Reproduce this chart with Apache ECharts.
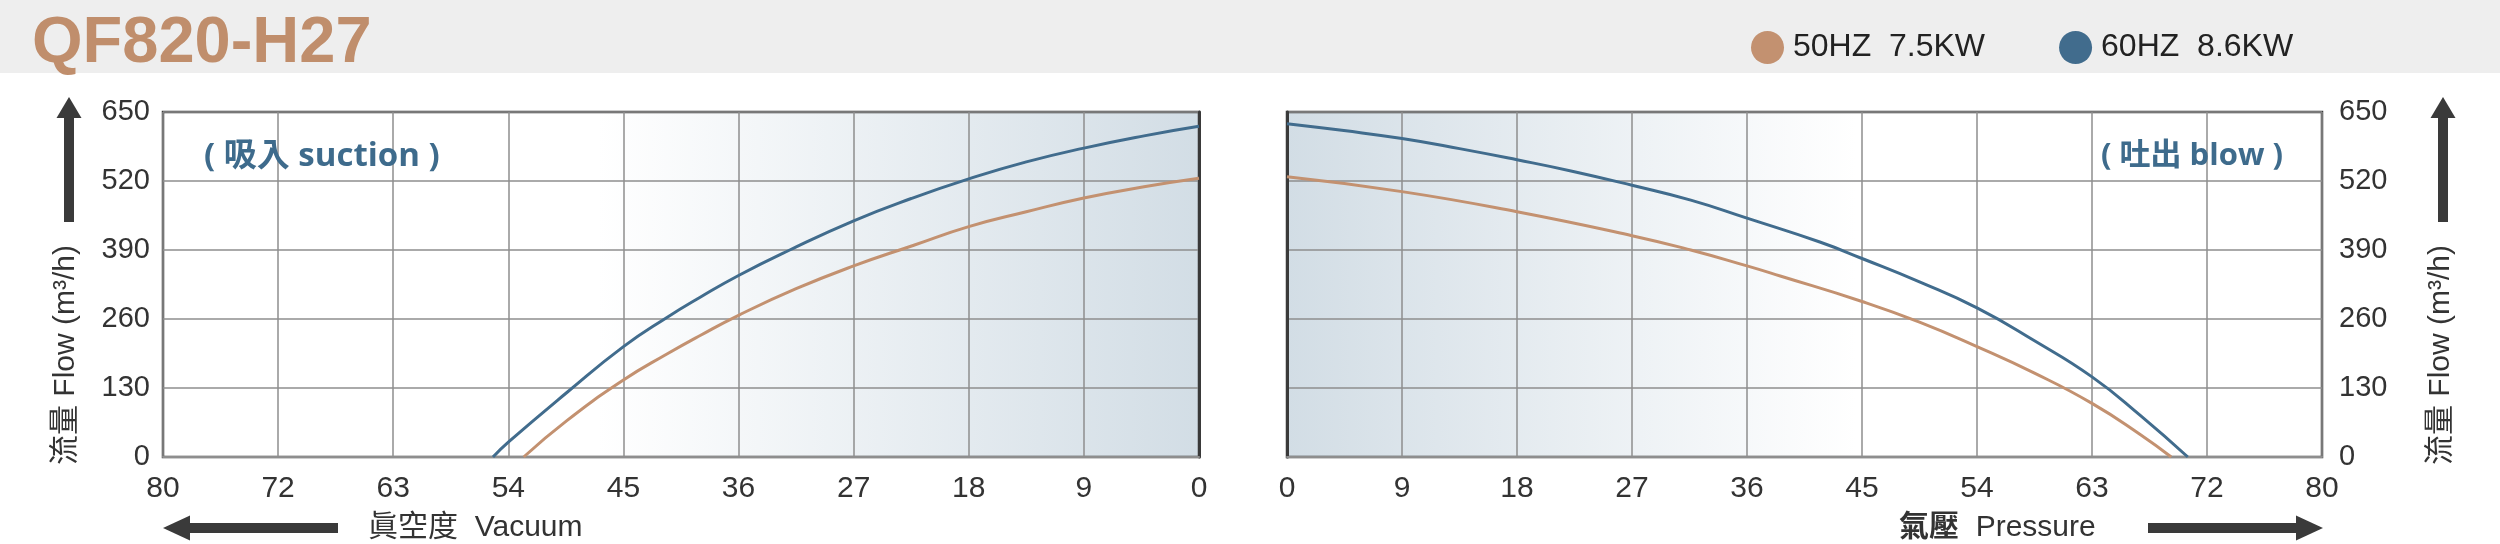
<!DOCTYPE html>
<html>
<head>
<meta charset="utf-8">
<script src="https://cdn.jsdelivr.net/npm/echarts@6/dist/echarts.min.js"></script>
<style>
  html, body { margin: 0; padding: 0; background: #fff; }
  #chart { width: 2500px; height: 544px; }
</style>
</head>
<body>
<div id="chart"></div>
<script>
// axis ticks (axis runs 0..81 in steps of 9, last step labelled 80)
const xTickLabels = ['0', '9', '18', '27', '36', '45', '54', '63', '72', '80']
const yTicks = [0, 130, 260, 390, 520, 650]

// suction side (vacuum -> flow)
const suctionVac50 = [0, 4.3, 9, 13.5, 18, 22.3, 27, 31.5, 36, 39, 41.6, 45, 49.4, 52.8]
const suctionFlow50 = [525, 509, 488, 462, 434, 399, 360, 317, 267, 229, 194, 145, 69, 0]
const suctionVac60 = [0, 4.3, 9, 13.5, 18, 22.5, 27, 32, 36, 39, 41.6, 45, 49.4, 54, 55.2]
const suctionFlow60 = [623, 605, 582, 556, 524, 487, 445, 390, 342, 301, 263, 208, 122, 28, 0]

// blow side (pressure -> flow)
const blowPres50 = [0, 9, 18, 27, 31.6, 36, 38.6, 45, 49.5, 54, 58.5, 63, 66.8, 69.2]
const blowFlow50 = [528, 500, 462, 417, 390, 360, 341, 293, 254, 208, 158, 101, 42, 0]
const blowPres60 = [0, 4.45, 9, 13.5, 18, 22.4, 27, 31.6, 36, 41.7, 45, 49.5, 54, 58.5, 63, 66.8, 70.5]
const blowFlow60 = [628, 615, 600, 581, 560, 538, 512, 484, 450, 405, 374, 330, 281, 219, 151, 78, 0]

const seriesNames = ['50HZ  7.5KW', '60HZ  8.6KW']
const TAN = '#c39170'
const BLUE = '#416c8d'
const TXT = '#333333'
const GRIDLINE = '#8e8e8e'
const BORDER = '#3a3a3a'
const FONT = '"Liberation Sans", Arial, sans-serif'
const CJK = '"Liberation Sans", "Noto Sans CJK TC", "Noto Sans CJK SC", sans-serif'

const zip = (xs, ys) => xs.map((x, i) => [x, ys[i]])

const chart = echarts.init(document.getElementById('chart'))

const xAxisBase = (gridIndex, inverse) => ({
  gridIndex,
  type: 'value',
  min: 0,
  max: 81,
  interval: 9,
  inverse,
  axisLine: { show: true, onZero: false, lineStyle: { color: GRIDLINE, width: 2 } },
  axisTick: { show: false },
  axisLabel: {
    color: TXT, fontSize: 30, fontFamily: FONT, margin: 17,
    formatter: v => xTickLabels[Math.round(v / 9)]
  },
  splitLine: { show: true, lineStyle: { color: GRIDLINE, width: 1.5 } }
})

const yAxisBase = (gridIndex, position, margin) => ({
  gridIndex,
  type: 'value',
  position,
  min: yTicks[0],
  max: yTicks[yTicks.length - 1],
  interval: 130,
  axisLine: { show: true, lineStyle: { color: BORDER, width: 3 } },
  axisTick: { show: false },
  axisLabel: { color: TXT, fontSize: 29, fontFamily: FONT, margin },
  splitLine: { show: true, lineStyle: { color: GRIDLINE, width: 1.5 } }
})

const lineSeries = (name, data, color, idx) => ({
  name,
  type: 'line',
  xAxisIndex: idx,
  yAxisIndex: idx,
  data,
  smooth: 0.5,
  symbol: 'none',
  lineStyle: { color, width: 3 },
  itemStyle: { color },
  z: 5
})

// up arrow graphic
const upArrow = cx => [
  { type: 'rect', shape: { x: cx - 5, y: 116, width: 10, height: 106 }, style: { fill: BORDER } },
  { type: 'polygon', shape: { points: [[cx, 97], [cx - 12.5, 118], [cx + 12.5, 118]] }, style: { fill: BORDER } }
]

const option = {
  backgroundColor: '#ffffff',
  animation: false,
  legend: {
    data: seriesNames,
    left: 1746,
    top: 26,
    icon: 'circle',
    itemWidth: 33,
    itemHeight: 33,
    itemGap: 74,
    textStyle: { color: '#222', fontSize: 32, fontFamily: FONT, padding: [0, 0, 0, 4] }
  },
  grid: [
    {
      left: 163, top: 112, width: 1036, height: 345, show: true,
      borderColor: BORDER, borderWidth: 2.5,
      backgroundColor: new echarts.graphic.LinearGradient(0, 0, 1, 0, [
        { offset: 0, color: '#ffffff' },
        { offset: 0.42, color: '#ffffff' },
        { offset: 1, color: '#d2dde5' }
      ])
    },
    {
      left: 1287, top: 112, width: 1035, height: 345, show: true,
      borderColor: BORDER, borderWidth: 2.5,
      backgroundColor: new echarts.graphic.LinearGradient(0, 0, 1, 0, [
        { offset: 0, color: '#d2dde5' },
        { offset: 0.55, color: '#ffffff' },
        { offset: 1, color: '#ffffff' }
      ])
    }
  ],
  xAxis: [xAxisBase(0, true), xAxisBase(1, false)],
  yAxis: [yAxisBase(0, 'left', 13), yAxisBase(1, 'right', 17)],
  series: [
    lineSeries(seriesNames[0], zip(suctionVac50, suctionFlow50), TAN, 0),
    lineSeries(seriesNames[1], zip(suctionVac60, suctionFlow60), BLUE, 0),
    lineSeries(seriesNames[0], zip(blowPres50, blowFlow50), TAN, 1),
    lineSeries(seriesNames[1], zip(blowPres60, blowFlow60), BLUE, 1)
  ],
  graphic: [
    { type: 'rect', z: -10, shape: { x: 0, y: 0, width: 2500, height: 73 }, style: { fill: '#eeeeee' } },
    {
      type: 'text', x: 32, y: 44,
      style: { text: 'QF820-H27', fontSize: 65, fontWeight: 'bold', fontFamily: FONT, fill: '#c08e6c', verticalAlign: 'middle' }
    },
    ...upArrow(69),
    ...upArrow(2443),
    {
      type: 'text', x: 66, y: 355, rotation: Math.PI / 2,
      style: { text: '流量 Flow (m³/h)', fontSize: 30, fontFamily: CJK, fill: TXT, align: 'center', verticalAlign: 'middle' }
    },
    {
      type: 'text', x: 2441, y: 355, rotation: Math.PI / 2,
      style: { text: '流量 Flow (m³/h)', fontSize: 30, fontFamily: CJK, fill: TXT, align: 'center', verticalAlign: 'middle' }
    },
    // bottom arrows
    { type: 'rect', shape: { x: 188, y: 523, width: 150, height: 10 }, style: { fill: BORDER } },
    { type: 'polygon', shape: { points: [[163, 528], [190, 515.5], [190, 540.5]] }, style: { fill: BORDER } },
    { type: 'rect', shape: { x: 2148, y: 523, width: 150, height: 10 }, style: { fill: BORDER } },
    { type: 'polygon', shape: { points: [[2323, 528], [2296, 515.5], [2296, 540.5]] }, style: { fill: BORDER } },
    {
      type: 'text', x: 368, y: 528,
      style: { text: '眞空度  Vacuum', fontSize: 30, fontFamily: CJK, fill: TXT, verticalAlign: 'middle' }
    },
    {
      type: 'text', x: 1899, y: 528,
      style: {
        text: '{b|氣壓}  Pressure', fontSize: 30, fontFamily: CJK, fill: TXT, verticalAlign: 'middle',
        rich: { b: { fontSize: 30, fontWeight: 'bold', fontFamily: CJK, fill: TXT } }
      }
    },
    {
      type: 'text', x: 204, y: 157, z: 10,
      style: { text: '( 吸入 suction )', fontSize: 33, fontWeight: 'bold', fontFamily: '"Open Sans", "Noto Sans CJK TC", sans-serif', fill: '#3e6b8c', verticalAlign: 'middle' }
    },
    {
      type: 'text', x: 2101, y: 156, z: 10,
      style: { text: '( 吐出 blow )', fontSize: 31, fontWeight: 'bold', fontFamily: '"Open Sans", "Noto Sans CJK TC", sans-serif', fill: '#3e6b8c', verticalAlign: 'middle' }
    }
  ]
}

chart.setOption(option)
window.addEventListener('resize', () => chart.resize())
</script>
</body>
</html>
